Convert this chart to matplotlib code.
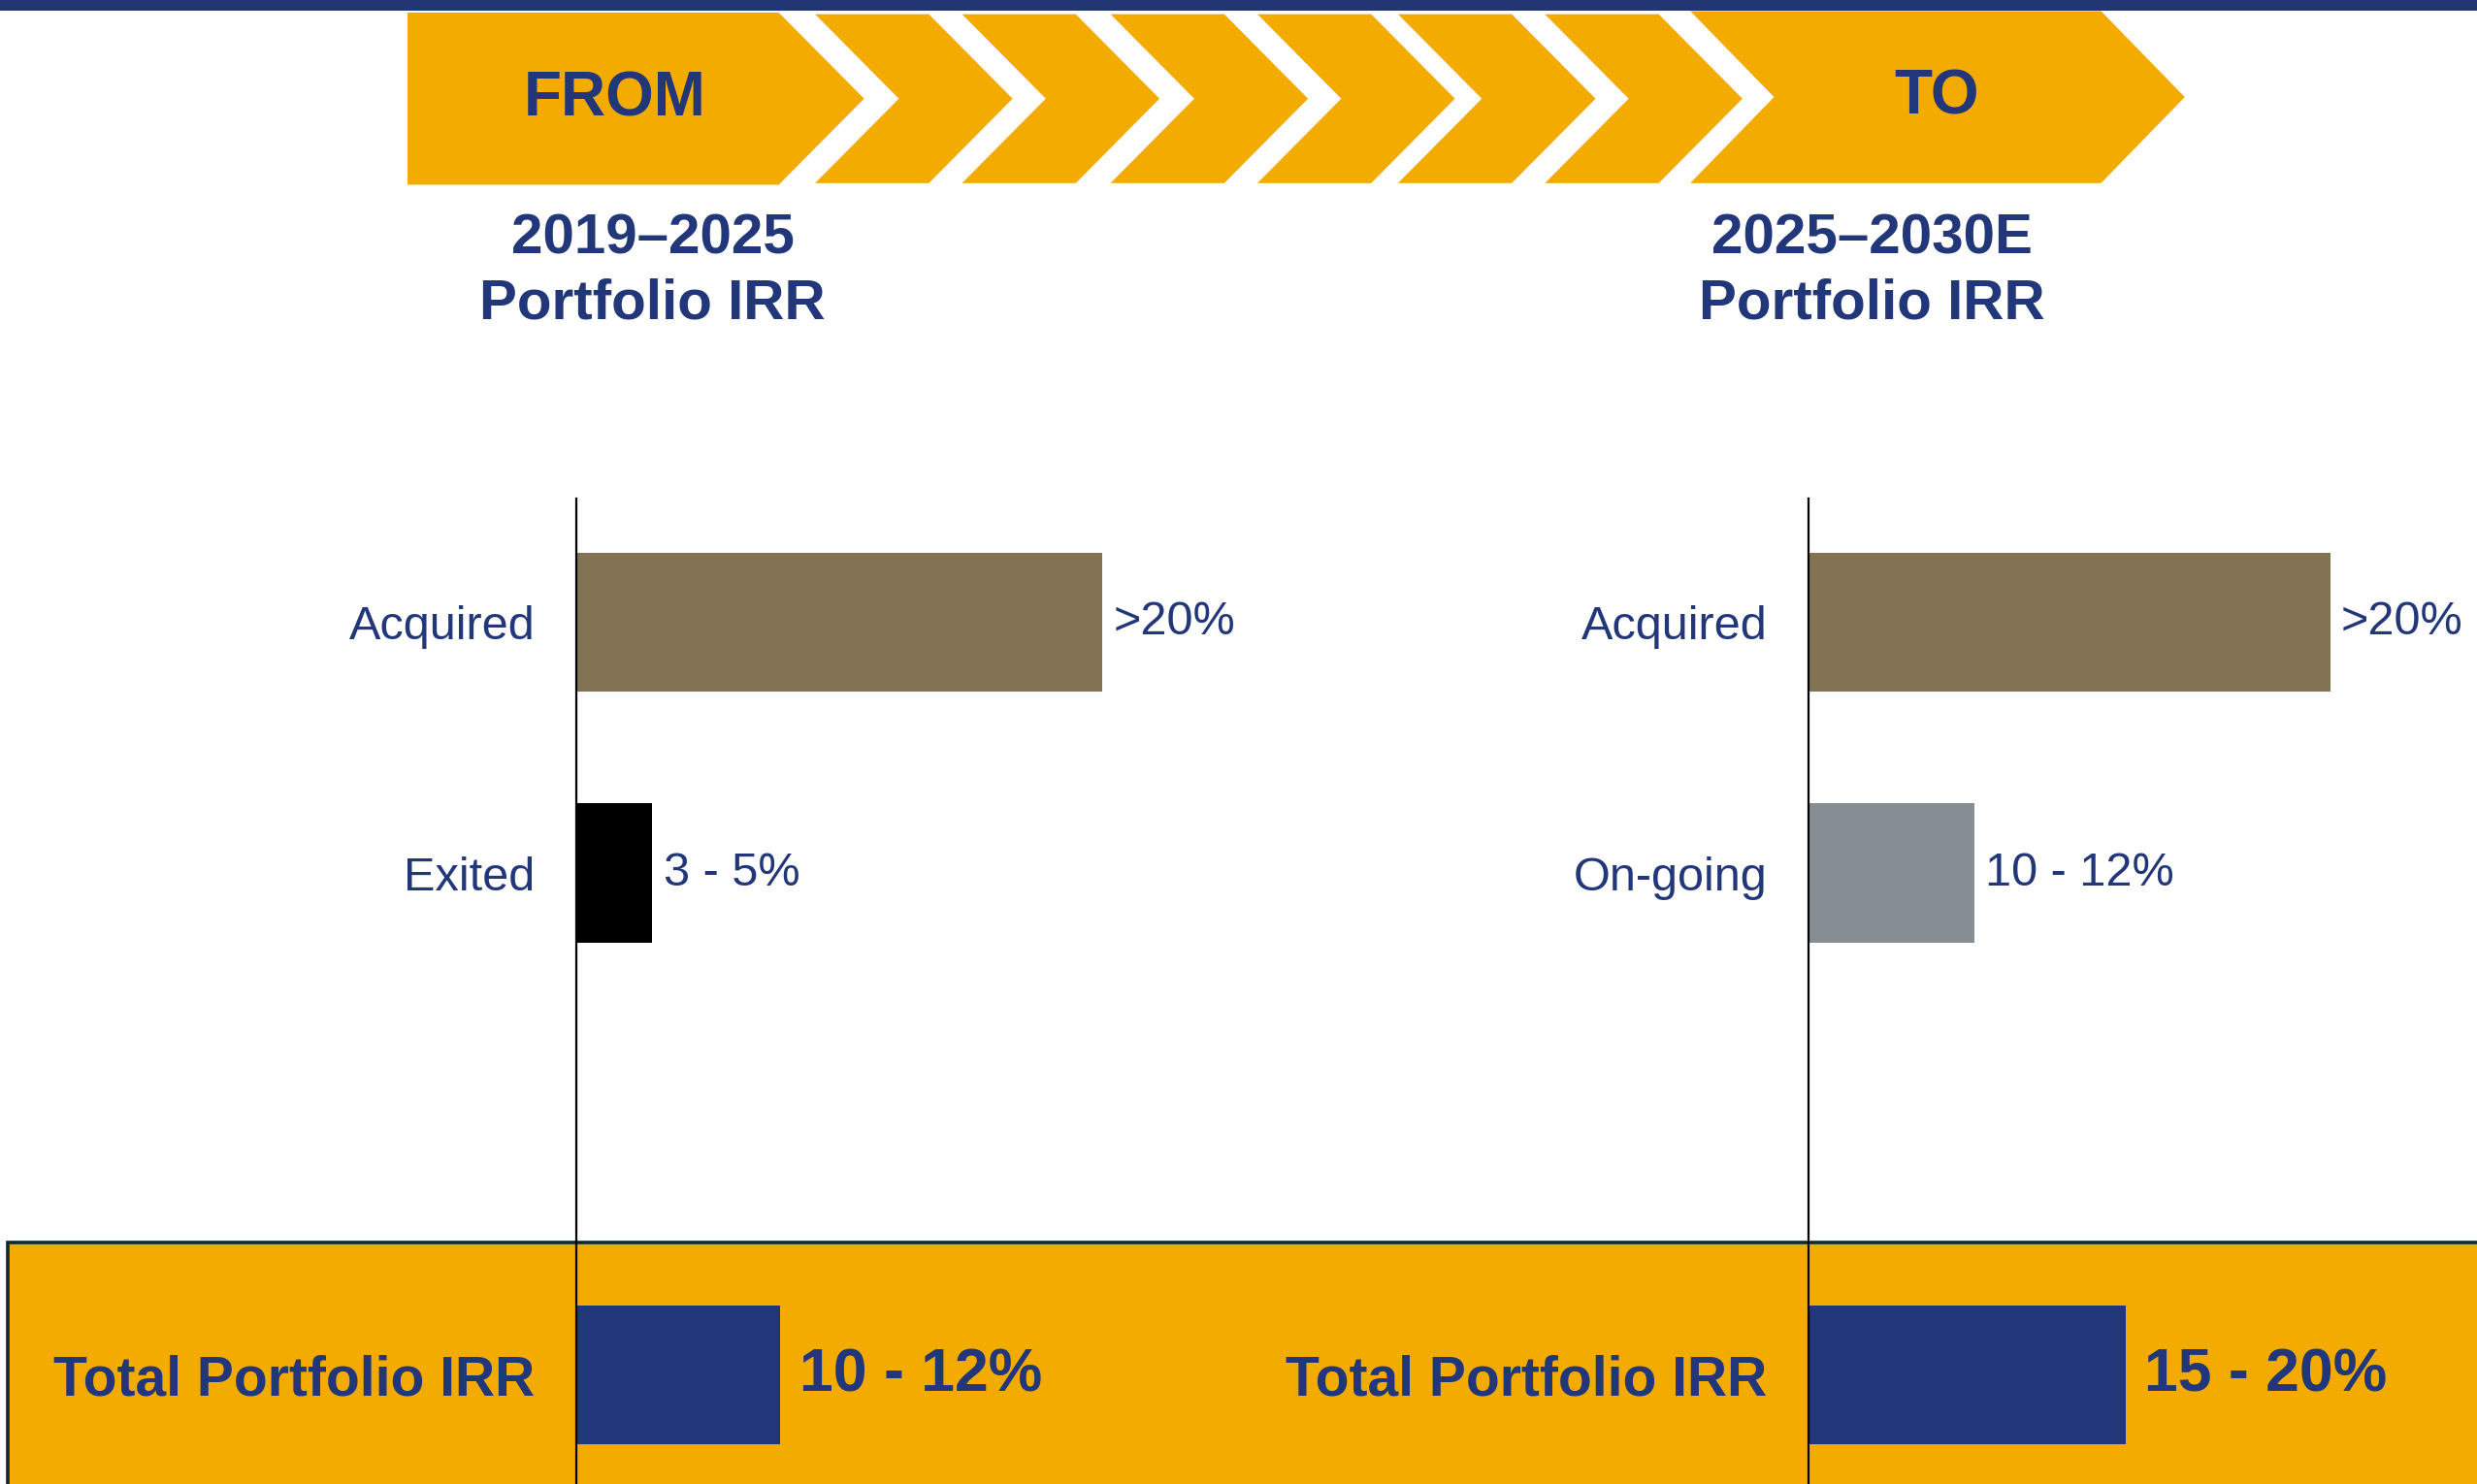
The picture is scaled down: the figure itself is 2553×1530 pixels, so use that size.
import matplotlib
matplotlib.use('Agg')
import matplotlib.pyplot as plt
from matplotlib.patches import Polygon, Rectangle

plt.rcParams['font.family'] = ['Liberation Sans', 'DejaVu Sans']

# ---- data ----
from_period = '2019–2025'
to_period = '2025–2030E'
total_category = 'Total Portfolio IRR'

left_categories = ['Acquired', 'Exited']
left_values = [27.75, 4.0]
left_labels = ['>20%', '3 - 5%']
left_total = 10.75
left_total_label = '10 - 12%'

right_categories = ['Acquired', 'On-going']
right_values = [27.5, 8.75]
right_labels = ['>20%', '10 - 12%']
right_total = 16.7
right_total_label = '15 - 20%'

# ---- style ----
NAVY = '#22367A'
ORANGE = '#F3AB00'
BROWN = '#837355'
GREY = '#878E93'
left_colors = [BROWN, '#000000']
right_colors = [BROWN, GREY]

W, H = 1568, 940  # layout units for the background
fig = plt.figure(figsize=(25.53, 15.30), dpi=100)

# background layer: banner, chevrons, bottom band
bg = fig.add_axes([0, 0, 1, 1])
bg.set_xlim(0, W)
bg.set_ylim(H, 0)
bg.axis('off')

bg.add_patch(Rectangle((0, 0), W, 6.8, color='#233674', lw=0))


def chevron(x, top, bottom, width, depth, flat_left=False):
    mid = (top + bottom) / 2
    pts = [(x, top), (x + width, top), (x + width + depth, mid),
           (x + width, bottom), (x, bottom)]
    if not flat_left:
        pts.append((x + depth, mid))
    bg.add_patch(Polygon(pts, closed=True, color=ORANGE, lw=0))


chevron(258, 8, 117, 235, 54, flat_left=True)
for cx in [516, 609, 703, 796, 885, 978]:
    chevron(cx, 9, 116, 72, 53)
chevron(1070, 7, 116, 260, 53)

bg.text(389, 63, 'FROM', ha='center', va='center', fontsize=46,
        fontweight='bold', color=NAVY)
bg.text(1226, 62, 'TO', ha='center', va='center', fontsize=46,
        fontweight='bold', color=NAVY)
bg.text(413, 172, from_period + '\nPortfolio IRR', ha='center', va='center',
        fontsize=42, fontweight='bold', color=NAVY, linespacing=1.3)
bg.text(1185, 172, to_period + '\nPortfolio IRR', ha='center', va='center',
        fontsize=42, fontweight='bold', color=NAVY, linespacing=1.3)

bg.add_patch(Rectangle((5, 787), W, 200, facecolor=ORANGE,
                       edgecolor='#0D2A33', lw=2.6))


def draw_panel(ax, cats, vals, labels, colors, total, total_label, xmax):
    bars = ax.barh([0, 1], vals, height=0.553, color=colors)
    tot = ax.barh([3], [total], height=0.553, color=NAVY)
    ax.bar_label(bars, labels=labels, padding=8, fontsize=35, color=NAVY)
    ax.bar_label(tot, labels=[total_label], padding=14, fontsize=45,
                 fontweight='bold', color=NAVY)
    ax.set_xlim(0, xmax)
    ax.set_ylim(3.434, -0.49)
    ax.set_yticks([0, 1, 3])
    ax.set_yticklabels(cats + [total_category])
    ax.tick_params(axis='y', length=0, pad=31, labelsize=35, labelcolor=NAVY)
    ax.set_xticks([])
    for s in ['top', 'right', 'bottom']:
        ax.spines[s].set_visible(False)
    ax.spines['left'].set_linewidth(1.6)
    ax.spines['left'].set_color('black')
    tl = ax.get_yticklabels()[-1]
    tl.set_fontweight('bold')
    tl.set_fontsize(41)
    ax.patch.set_alpha(0)


ax1 = fig.add_axes([365 / W, 0, (1145 - 365) / W, 624 / H])
draw_panel(ax1, left_categories, left_values, left_labels, left_colors,
           left_total, left_total_label, (1145 - 365) / 12)

ax2 = fig.add_axes([1145 / W, 0, (W - 1145) / W, 624 / H])
draw_panel(ax2, right_categories, right_values, right_labels, right_colors,
           right_total, right_total_label, (W - 1145) / 12)

fig.savefig('out.png', dpi=100)
